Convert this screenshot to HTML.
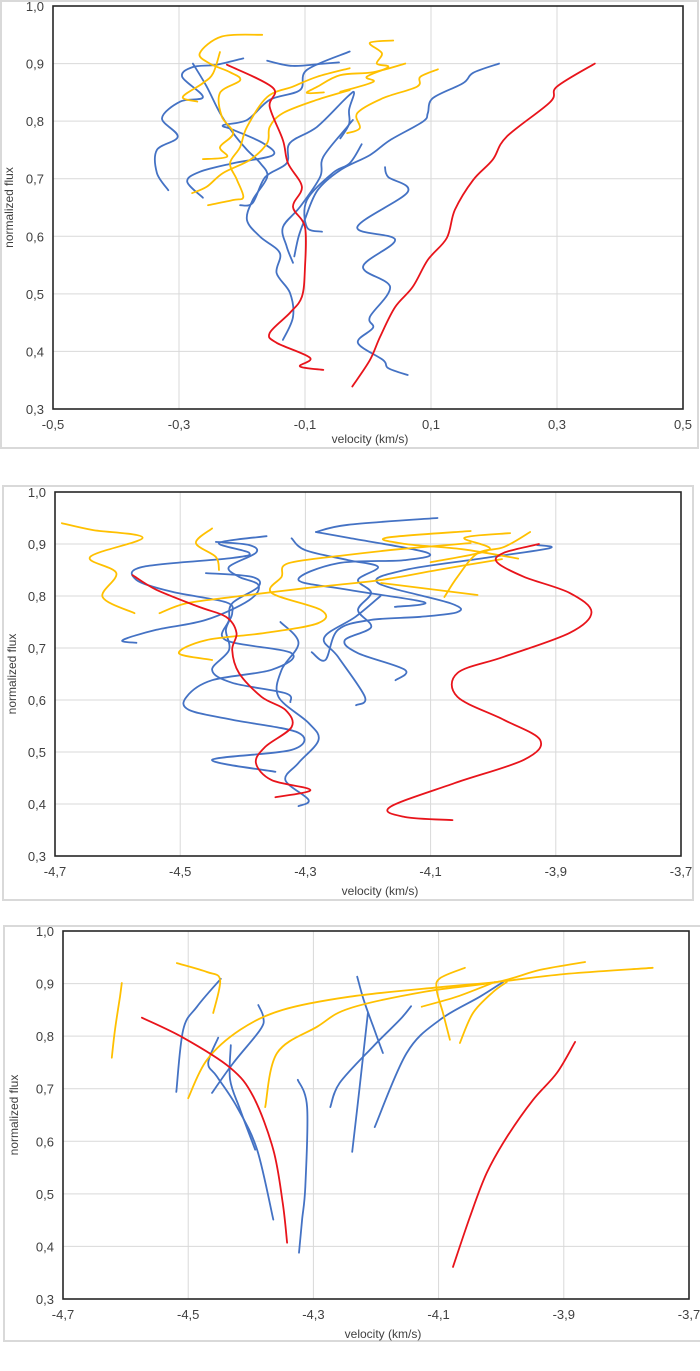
<!DOCTYPE html>
<html><head><meta charset="utf-8">
<style>
html,body{margin:0;padding:0;background:#fff;}
body{width:700px;height:1371px;position:relative;overflow:hidden;font-family:"Liberation Sans",sans-serif;}
svg{position:absolute;left:0;top:0;}
</style></head>
<body>
<svg id="chart" width="700" height="1371" viewBox="0 0 700 1371"></svg>
<script>
// ---------- DATA ----------
// panel 1 (velocity -0.5..0.5)
const p1Red = [
 [[0.36,0.9],[0.30,0.86],[0.289,0.833],[0.22,0.773],[0.198,0.733],[0.167,0.698],[0.138,0.646],[0.125,0.597],[0.095,0.559],[0.071,0.512],[0.043,0.477],[0.019,0.425],[0.003,0.385],[-0.025,0.339]],
 [[-0.224,0.898],[-0.151,0.858],[-0.156,0.825],[-0.135,0.767],[-0.127,0.727],[-0.105,0.686],[-0.119,0.651],[-0.1,0.616],[-0.1,0.547],[-0.105,0.495],[-0.124,0.467],[-0.156,0.432],[-0.145,0.415],[-0.092,0.389],[-0.108,0.374],[-0.071,0.368]]
];
const p1Blue = [
 [[0.027,0.72],[0.032,0.703],[0.063,0.677],[-0.017,0.616],[0.043,0.594],[-0.008,0.547],[0.035,0.512],[0.003,0.46],[0.008,0.441],[-0.016,0.415],[0.024,0.385],[0.032,0.371],[0.063,0.359]],
 [[0.208,0.9],[0.167,0.884],[0.151,0.866],[0.103,0.84],[0.095,0.814],[0.087,0.799],[0.035,0.767],[0.003,0.741],[-0.044,0.715],[-0.08,0.68],[-0.1,0.63],[-0.11,0.6],[-0.117,0.565]],
 [[-0.317,0.68],[-0.335,0.71],[-0.335,0.75],[-0.302,0.773],[-0.327,0.805],[-0.298,0.834],[-0.262,0.842],[-0.295,0.877],[-0.278,0.894],[-0.24,0.898],[-0.198,0.909]],
 [[-0.262,0.667],[-0.287,0.695],[-0.267,0.712],[-0.214,0.727],[-0.151,0.741],[-0.167,0.762],[-0.214,0.785],[-0.23,0.793],[-0.192,0.802],[-0.156,0.837],[-0.108,0.854],[-0.097,0.889],[-0.029,0.921]],
 [[-0.278,0.9],[-0.256,0.86],[-0.235,0.814],[-0.214,0.779],[-0.192,0.75],[-0.171,0.727],[-0.16,0.703],[-0.183,0.663],[-0.192,0.628],[-0.171,0.599],[-0.14,0.571],[-0.145,0.536],[-0.124,0.502],[-0.119,0.46],[-0.135,0.42]],
 [[-0.203,0.654],[-0.183,0.658],[-0.163,0.703],[-0.129,0.727],[-0.124,0.762],[-0.081,0.79],[-0.033,0.842],[-0.022,0.849],[-0.03,0.82],[-0.03,0.795],[-0.044,0.77]],
 [[-0.119,0.554],[-0.129,0.582],[-0.135,0.616],[-0.108,0.651],[-0.076,0.703],[-0.071,0.738],[-0.033,0.79],[-0.024,0.802]],
 [[-0.073,0.608],[-0.097,0.616],[-0.097,0.663],[-0.056,0.71],[-0.029,0.727],[-0.01,0.76]],
 [[-0.16,0.905],[-0.12,0.896],[-0.07,0.9],[-0.046,0.902]]
];
const p1Yellow = [
 [[-0.168,0.95],[-0.232,0.947],[-0.267,0.918],[-0.251,0.9],[-0.219,0.885],[-0.203,0.871],[-0.235,0.849],[-0.232,0.808],[-0.214,0.779],[-0.235,0.755],[-0.224,0.738],[-0.262,0.734]],
 [[-0.235,0.92],[-0.246,0.883],[-0.262,0.866],[-0.294,0.842],[-0.271,0.834]],
 [[-0.279,0.675],[-0.256,0.686],[-0.23,0.71],[-0.187,0.733],[-0.16,0.762],[-0.156,0.79],[-0.135,0.814],[-0.081,0.837],[-0.029,0.854]],
 [[-0.254,0.654],[-0.214,0.663],[-0.198,0.668],[-0.208,0.698],[-0.219,0.727],[-0.203,0.755],[-0.192,0.79],[-0.16,0.842],[-0.119,0.86],[-0.081,0.877],[-0.029,0.892]],
 [[0.04,0.94],[0.003,0.936],[0.022,0.918],[0.014,0.9],[0.032,0.894],[-0.002,0.877],[0.008,0.868],[-0.044,0.851]],
 [[0.111,0.89],[0.083,0.877],[0.078,0.86],[0.024,0.84],[-0.017,0.814],[-0.013,0.788],[-0.033,0.779]],
 [[0.059,0.9],[0.008,0.885],[-0.044,0.88],[-0.08,0.86],[-0.097,0.849],[-0.07,0.85]]
];
// panel 2 (velocity -4.7..-3.7)
const p2Red = [
 [[-4.576,0.84],[-4.538,0.812],[-4.47,0.779],[-4.427,0.76],[-4.41,0.729],[-4.417,0.696],[-4.406,0.652],[-4.37,0.606],[-4.332,0.581],[-4.322,0.548],[-4.364,0.51],[-4.379,0.479],[-4.354,0.446],[-4.292,0.427],[-4.348,0.413]],
 [[-3.927,0.9],[-3.983,0.883],[-3.994,0.865],[-3.951,0.837],[-3.878,0.806],[-3.843,0.769],[-3.878,0.729],[-3.983,0.683],[-4.057,0.652],[-4.057,0.606],[-3.983,0.562],[-3.925,0.523],[-3.951,0.485],[-4.062,0.44],[-4.165,0.394],[-4.141,0.375],[-4.065,0.369]]
];
const p2Yellow = [
 [[-4.689,0.94],[-4.64,0.927],[-4.56,0.912],[-4.644,0.875],[-4.602,0.844],[-4.624,0.798],[-4.573,0.767]],
 [[-4.449,0.93],[-4.475,0.902],[-4.443,0.875],[-4.438,0.85]],
 [[-4.449,0.677],[-4.502,0.69],[-4.459,0.715],[-4.364,0.729],[-4.279,0.748],[-4.275,0.773],[-4.354,0.806],[-4.338,0.837],[-4.327,0.863],[-4.232,0.879],[-4.15,0.89],[-4.036,0.902]],
 [[-4.533,0.767],[-4.49,0.786],[-4.417,0.798],[-4.3,0.815],[-4.184,0.83],[-4.089,0.85],[-3.986,0.871]],
 [[-3.941,0.923],[-3.983,0.894],[-4.025,0.882],[-4.057,0.837],[-4.078,0.798]],
 [[-3.973,0.921],[-4.046,0.912],[-4.006,0.889],[-4.1,0.865]],
 [[-4.036,0.925],[-4.171,0.912],[-4.14,0.9],[-4.05,0.89],[-3.96,0.872]],
 [[-4.179,0.825],[-4.025,0.802]]
];
const p2Blue = [
 [[-4.362,0.915],[-4.438,0.902],[-4.39,0.883],[-4.417,0.873],[-4.56,0.856],[-4.57,0.831],[-4.513,0.808],[-4.427,0.788],[-4.417,0.767],[-4.427,0.735],[-4.422,0.696],[-4.449,0.658],[-4.417,0.633],[-4.332,0.613],[-4.324,0.596]],
 [[-4.57,0.71],[-4.592,0.715],[-4.538,0.735],[-4.459,0.754],[-4.39,0.792],[-4.375,0.821],[-4.406,0.837],[-4.422,0.856],[-4.379,0.883],[-4.39,0.898],[-4.443,0.904]],
 [[-4.459,0.844],[-4.386,0.837],[-4.375,0.818],[-4.417,0.786],[-4.422,0.754],[-4.427,0.715],[-4.322,0.69],[-4.354,0.658],[-4.449,0.638],[-4.49,0.606],[-4.486,0.581],[-4.417,0.562],[-4.311,0.537],[-4.322,0.504],[-4.449,0.485],[-4.348,0.462]],
 [[-4.34,0.75],[-4.311,0.71],[-4.338,0.658],[-4.343,0.606],[-4.295,0.556],[-4.279,0.523],[-4.311,0.479],[-4.332,0.446],[-4.295,0.408],[-4.311,0.396]],
 [[-4.322,0.911],[-4.3,0.888],[-4.232,0.869],[-4.184,0.856],[-4.216,0.831],[-4.195,0.806],[-4.216,0.773],[-4.195,0.74],[-4.237,0.715],[-4.216,0.69],[-4.141,0.658],[-4.156,0.638]],
 [[-4.283,0.923],[-4.232,0.937],[-4.089,0.95]],
 [[-4.283,0.923],[-4.232,0.912],[-4.105,0.883],[-4.141,0.869],[-4.248,0.863],[-4.311,0.831],[-4.232,0.812],[-4.11,0.788],[-4.157,0.779]],
 [[-4.29,0.692],[-4.268,0.677],[-4.248,0.735],[-4.195,0.754],[-4.116,0.76],[-4.057,0.769],[-4.068,0.786],[-4.184,0.825],[-4.141,0.85],[-4.014,0.873],[-3.91,0.892],[-3.93,0.898]],
 [[-4.219,0.59],[-4.205,0.606],[-4.248,0.683],[-4.27,0.72],[-4.22,0.76],[-4.18,0.8]]
];
// panel 3 (velocity -4.7..-3.7)
const p3Red = [
 [[-4.574,0.835],[-4.508,0.797],[-4.433,0.74],[-4.396,0.685],[-4.364,0.584],[-4.349,0.483],[-4.342,0.407]],
 [[-3.882,0.789],[-3.911,0.73],[-3.949,0.679],[-3.991,0.608],[-4.023,0.54],[-4.05,0.456],[-4.077,0.361]]
];
const p3Yellow = [
 [[-4.622,0.759],[-4.617,0.812],[-4.609,0.875],[-4.606,0.901]],
 [[-4.518,0.939],[-4.47,0.922],[-4.449,0.907],[-4.46,0.844]],
 [[-4.5,0.682],[-4.47,0.755],[-4.417,0.812],[-4.349,0.85],[-4.242,0.875],[-4.1,0.893],[-4.007,0.903],[-3.9,0.918],[-3.758,0.93]],
 [[-4.377,0.665],[-4.358,0.768],[-4.294,0.818],[-4.242,0.853],[-4.12,0.885],[-4.007,0.903],[-3.938,0.926],[-3.866,0.941]],
 [[-4.058,0.93],[-4.098,0.91],[-4.103,0.888],[-4.093,0.844],[-4.082,0.793]],
 [[-4.066,0.787],[-4.045,0.844],[-4.013,0.884],[-3.991,0.903]],
 [[-4.127,0.856],[-4.071,0.875],[-4.01,0.903]]
];
const p3Blue = [
 [[-4.519,0.694],[-4.508,0.812],[-4.486,0.856],[-4.448,0.909]],
 [[-4.452,0.797],[-4.468,0.749],[-4.454,0.723],[-4.422,0.665],[-4.39,0.584],[-4.364,0.451]],
 [[-4.462,0.692],[-4.428,0.749],[-4.385,0.812],[-4.38,0.836],[-4.388,0.859]],
 [[-4.432,0.783],[-4.433,0.717],[-4.417,0.66],[-4.393,0.584]],
 [[-4.325,0.717],[-4.31,0.665],[-4.313,0.513],[-4.318,0.451],[-4.323,0.388]],
 [[-4.273,0.665],[-4.258,0.711],[-4.205,0.78],[-4.162,0.831],[-4.144,0.857]],
 [[-4.23,0.913],[-4.22,0.87],[-4.205,0.82],[-4.189,0.768]],
 [[-4.238,0.58],[-4.226,0.704],[-4.213,0.844]],
 [[-4.202,0.627],[-4.151,0.768],[-4.098,0.831],[-4.034,0.875],[-3.997,0.903]]
];
const p1XTicks = ["-0,5","-0,3","-0,1","0,1","0,3","0,5"];
const p23XTicks = ["-4,7","-4,5","-4,3","-4,1","-3,9","-3,7"];
const yTicks = ["0,3","0,4","0,5","0,6","0,7","0,8","0,9","1,0"];

// ---------- RENDER ----------
const NS = "http://www.w3.org/2000/svg";
const svg = document.getElementById('chart');
function mk(tag, attrs, parent){ const e=document.createElementNS(NS,tag); for(const k in attrs) e.setAttribute(k,attrs[k]); (parent||svg).appendChild(e); return e; }

function smooth(pts){
  if(pts.length<2) return '';
  let d='M'+pts[0][0].toFixed(1)+','+pts[0][1].toFixed(1);
  for(let i=0;i<pts.length-1;i++){
    const p0=pts[i-1]||pts[i], p1=pts[i], p2=pts[i+1], p3=pts[i+2]||pts[i+1];
    const c1=[p1[0]+(p2[0]-p0[0])/6, p1[1]+(p2[1]-p0[1])/6];
    const c2=[p2[0]-(p3[0]-p1[0])/6, p2[1]-(p3[1]-p1[1])/6];
    d+='C'+c1[0].toFixed(1)+','+c1[1].toFixed(1)+' '+c2[0].toFixed(1)+','+c2[1].toFixed(1)+' '+p2[0].toFixed(1)+','+p2[1].toFixed(1);
  }
  return d;
}

function panel(cfg){
  const g = mk('g',{});
  
  
  if(cfg.frame){
    const fr = mk('rect',{x:cfg.frame[0],y:cfg.frame[1],width:cfg.frame[2],height:cfg.frame[3],fill:'none',stroke:'#d9d9d9','stroke-width':2},g);
    
    
  }
  const xs = v => cfg.x0 + (v-cfg.vmin)/(cfg.vmax-cfg.vmin)*(cfg.x1-cfg.x0);
  const ys = f => cfg.y1 - (f-0.3)/0.7*(cfg.y1-cfg.y0);
  // grid
  for(let i=0;i<cfg.xt.length;i++){
    const v = cfg.vmin + i*(cfg.vmax-cfg.vmin)/(cfg.xt.length-1);
    const X = xs(v);
    if(i>0 && i<cfg.xt.length-1){
      const gl = mk('line',{x1:X,x2:X,y1:cfg.y0,y2:cfg.y1,stroke:'#d9d9d9','stroke-width':1},g);
      
      
    }
    const t = mk('text',{x:X,y:cfg.y1+20,'text-anchor':'middle','font-size':13,fill:'#404040'},g);
    t.textContent = cfg.xt[i];
    
    
  }
  for(let i=0;i<yTicks.length;i++){
    const f = 0.3 + i*0.1;
    const Y = ys(f);
    if(i>0){
      const gl = mk('line',{x1:cfg.x0,x2:cfg.x1,y1:Y,y2:Y,stroke:'#d9d9d9','stroke-width':1},g);
      
      
    }
    const t = mk('text',{x:cfg.x0-9,y:Y+5,'text-anchor':'end','font-size':13,fill:'#404040'},g);
    t.textContent = yTicks[i];
    
    
  }
  const bx = mk('rect',{x:cfg.x0,y:cfg.y0,width:cfg.x1-cfg.x0,height:cfg.y1-cfg.y0,fill:'none',stroke:'#262626','stroke-width':1.6},g);
  
  
  const xt = mk('text',{x:cfg.xtx,y:cfg.xty,'text-anchor':'middle','font-size':12,fill:'#404040'},g);
  xt.textContent='velocity (km/s)';
  
  
  const yt = mk('text',{x:0,y:0,'text-anchor':'middle','font-size':12,fill:'#404040',transform:'translate('+cfg.ytx+','+((cfg.y0+cfg.y1)/2)+') rotate(-90)'},g);
  yt.textContent='normalized flux';
  
  
  const groups = [[cfg.blue,'#4472c4','blue-series'],[cfg.yellow,'#ffc000','yellow-series'],[cfg.red,'#e8141b','red-series']];
  for(const [arr,col,nm] of groups){
    for(const s of arr){
      const p = mk('path',{d:smooth(s.map(q=>[xs(q[0]),ys(q[1])])),fill:'none',stroke:col,'stroke-width':1.8,'stroke-linecap':'round','stroke-linejoin':'round'},g);
      
      
    }
  }
}

panel({name:'chart-panel-1',frame:[1,1,697,447],x0:53,x1:683,y0:6,y1:409,vmin:-0.5,vmax:0.5,xt:p1XTicks,xtx:370,xty:443,ytx:13,red:p1Red,blue:p1Blue,yellow:p1Yellow});
panel({name:'chart-panel-2',frame:[3,486,690,414],x0:55,x1:681,y0:492,y1:856,vmin:-4.7,vmax:-3.7,xt:p23XTicks,xtx:380,xty:895,ytx:16,red:p2Red,blue:p2Blue,yellow:p2Yellow});
panel({name:'chart-panel-3',frame:[4,926,700,415],x0:63,x1:689,y0:931,y1:1299,vmin:-4.7,vmax:-3.7,xt:p23XTicks,xtx:383,xty:1338,ytx:18,red:p3Red,blue:p3Blue,yellow:p3Yellow});
</script>
</body></html>
